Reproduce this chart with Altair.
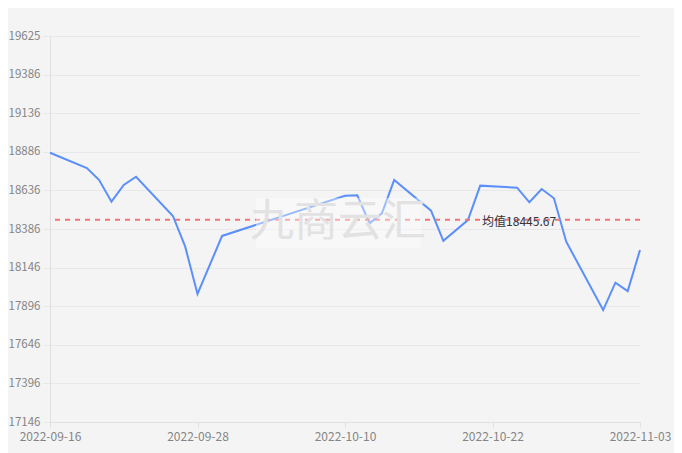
import altair as alt
import pandas as pd

dates = ["2022-09-16", "2022-09-19", "2022-09-20", "2022-09-21", "2022-09-22", "2022-09-23",
         "2022-09-26", "2022-09-27", "2022-09-28", "2022-09-30", "2022-10-10", "2022-10-11",
         "2022-10-12", "2022-10-13", "2022-10-14", "2022-10-17", "2022-10-18", "2022-10-20",
         "2022-10-21", "2022-10-24", "2022-10-25", "2022-10-26", "2022-10-27", "2022-10-28",
         "2022-10-31", "2022-11-01", "2022-11-02", "2022-11-03"]
values = [18875, 18777, 18700, 18561, 18668, 18721,
          18469, 18272, 17968, 18341, 18599, 18602,
          18422, 18486, 18700, 18503, 18310, 18443,
          18664, 18651, 18557, 18642, 18583, 18304,
          17865, 18041, 17987, 18251]
y_labels = ["17146", "17396", "17646", "17896", "18146", "18386",
            "18636", "18886", "19136", "19386", "19625"]
x_labels = ["2022-09-16", "2022-09-28", "2022-10-10", "2022-10-22", "2022-11-03"]
mean_value = 18445.67
mean_label = "均值18445.67"
watermark = "九商云汇"

y_min, y_max = 17146, 19625
step = (y_max - y_min) / (len(y_labels) - 1)
y_ticks = [y_min + i * step for i in range(len(y_labels))]
label_arr = "[" + ",".join("'" + s + "'" for s in y_labels) + "]"

df = pd.DataFrame({"date": dates, "value": values})


def dt(s):
    y, m, d = s.split("-")
    return alt.DateTime(year=int(y), month=int(m), date=int(d), utc=True)


FONT = "Noto Sans CJK SC"
LABEL_COLOR = "#858585"
xscale = alt.Scale(type="utc", domain=[dt(dates[0]), dt(dates[-1])])
yscale = alt.Scale(domain=[y_min, y_max], nice=False, zero=False)

line = alt.Chart(df).mark_line(color="#5b8ff9", strokeWidth=2).encode(
    x=alt.X("date:T", scale=xscale, title=None,
            axis=alt.Axis(values=[dt(s) for s in x_labels],
                          labelExpr="utcFormat(datum.value, '%Y-%m-%d')",
                          grid=False, domainColor="#e0e0e0", tickColor="#e0e0e0",
                          tickSize=5, labelColor=LABEL_COLOR, labelFontSize=12,
                          labelFont=FONT, labelPadding=4, labelFlush=False,
                          labelOverlap=False, tickCount=20)),
    y=alt.Y("value:Q", scale=yscale, title=None,
            axis=alt.Axis(values=y_ticks, tickCount=30,
                          labelExpr=label_arr + "[round((datum.value-%d)/%f)]" % (y_min, step),
                          gridColor="#e8e8e8", domainColor="#e0e0e0", tickColor="#e8e8e8",
                          tickSize=7, labelColor=LABEL_COLOR, labelFontSize=11.5,
                          labelFont=FONT, labelPadding=3, labelOverlap=False,
                          labelFlush=False)),
)

mean_df = pd.DataFrame({"start": [dates[0]], "end": [dates[-1]], "v": [mean_value]})
mean_rule = alt.Chart(mean_df).mark_rule(color="#f27474", strokeWidth=2,
                                         strokeDash=[5, 5], strokeDashOffset=-5).encode(
    x=alt.X("start:T", scale=xscale), x2="end:T", y=alt.Y("v:Q", scale=yscale))

mean_text = alt.Chart(mean_df).mark_text(font=FONT, fontSize=12, color="#333333",
                                         align="center", baseline="middle", dx=2, dy=2).encode(
    x=alt.datum(dt("2022-10-24"), scale=xscale),
    y=alt.Y("v:Q", scale=yscale),
    text=alt.value(mean_label))

wm_box = alt.Chart(mean_df).mark_rect(color="white", opacity=0.4).encode(
    x=alt.value(206), x2=alt.value(371), y=alt.value(162), y2=alt.value(212))
wm_text = alt.Chart(mean_df).mark_text(font=FONT, fontSize=44, color="#e2e2e2",
                                       align="center", baseline="middle").encode(
    x=alt.value(288), y=alt.value(187), text=alt.value(watermark))

chart = alt.layer(line, mean_rule, wm_box, wm_text, mean_text).properties(
    width=590, height=386, background="#f4f4f4",
    autosize=alt.AutoSizeParams(type="none"),
    padding={"left": 42, "top": 28, "right": 34, "bottom": 31},
).configure_view(stroke=None)

chart.save("out.html", embed_options={"renderer": "svg", "actions": False})
